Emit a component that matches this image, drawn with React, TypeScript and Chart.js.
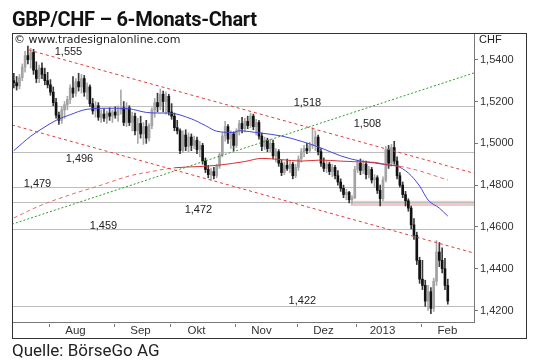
import { useEffect, useRef } from 'react';
import { Chart, registerables } from 'chart.js';

Chart.register(...registerables);

// ---- Data (daily GBP/CHF, 13 Jul 2012 – 14 Feb 2013, trading-day index) ----
const monthLabels = ['Aug', 'Sep', 'Okt', 'Nov', 'Dez', '2013', 'Feb'];
const monthStarts = [13, 36, 56, 79, 101, 122, 145];

const opens = [
  1.5300, 1.5290, 1.5275, 1.5315, 1.5365, 1.5420, 1.5400, 1.5435, 1.5350, 1.5310,
  1.5360, 1.5330, 1.5300, 1.5280, 1.5245, 1.5195, 1.5135, 1.5110, 1.5160, 1.5185,
  1.5210, 1.5265, 1.5240, 1.5295, 1.5270, 1.5310, 1.5245, 1.5270, 1.5190, 1.5155,
  1.5180, 1.5125, 1.5140, 1.5120, 1.5145, 1.5130, 1.5150, 1.5135, 1.5160, 1.5170,
  1.5100, 1.5170, 1.5100, 1.5130, 1.5060, 1.5095, 1.5045, 1.5080, 1.5025, 1.5085,
  1.5160, 1.5195, 1.5175, 1.5235, 1.5200, 1.5225, 1.5150, 1.5130, 1.5075, 1.5060,
  1.4965, 1.5040, 1.4985, 1.5030, 1.4990, 1.5015, 1.4970, 1.4990, 1.4915, 1.4875,
  1.4850, 1.4865, 1.4845, 1.4890, 1.4945, 1.5035, 1.5080, 1.5020, 1.5045, 1.4990,
  1.5060, 1.5095, 1.5070, 1.5105, 1.5085, 1.5130, 1.5080, 1.5100, 1.5035, 1.4985,
  1.5015, 1.4975, 1.5000, 1.4940, 1.4960, 1.4905, 1.4860, 1.4895, 1.4880, 1.4900,
  1.4845, 1.4885, 1.4925, 1.4960, 1.4975, 1.4965, 1.4990, 1.4995, 1.5030, 1.4960,
  1.4905, 1.4880, 1.4900, 1.4865, 1.4885, 1.4845, 1.4815, 1.4785, 1.4755, 1.4765,
  1.4730, 1.4740, 1.4875, 1.4905, 1.4870, 1.4900, 1.4850, 1.4875, 1.4825, 1.4835,
  1.4775, 1.4735, 1.4825, 1.4970, 1.4905, 1.4980, 1.4915, 1.4845, 1.4800, 1.4755,
  1.4725, 1.4690, 1.4610, 1.4560, 1.4440, 1.4350, 1.4320, 1.4245, 1.4290, 1.4210,
  1.4340, 1.4480, 1.4440, 1.4400, 1.4320,
];
const highs = [
  1.5335, 1.5320, 1.5330, 1.5380, 1.5440, 1.5465, 1.5455, 1.5450, 1.5390, 1.5375,
  1.5385, 1.5360, 1.5340, 1.5305, 1.5270, 1.5215, 1.5150, 1.5175, 1.5200, 1.5225,
  1.5280, 1.5320, 1.5310, 1.5335, 1.5330, 1.5325, 1.5290, 1.5280, 1.5215, 1.5200,
  1.5195, 1.5160, 1.5165, 1.5155, 1.5170, 1.5160, 1.5175, 1.5180, 1.5255, 1.5200,
  1.5195, 1.5180, 1.5150, 1.5145, 1.5120, 1.5130, 1.5100, 1.5110, 1.5095, 1.5170,
  1.5215, 1.5240, 1.5260, 1.5250, 1.5245, 1.5235, 1.5190, 1.5145, 1.5110, 1.5070,
  1.5060, 1.5065, 1.5050, 1.5045, 1.5035, 1.5030, 1.5010, 1.5000, 1.4930, 1.4895,
  1.4880, 1.4885, 1.4900, 1.4955, 1.5050, 1.5105, 1.5090, 1.5060, 1.5055, 1.5070,
  1.5110, 1.5125, 1.5120, 1.5130, 1.5145, 1.5140, 1.5115, 1.5110, 1.5050, 1.5030,
  1.5025, 1.5020, 1.5015, 1.4975, 1.4970, 1.4920, 1.4910, 1.4925, 1.4915, 1.4910,
  1.4900, 1.4940, 1.4975, 1.4990, 1.5000, 1.5005, 1.5075, 1.5060, 1.5040, 1.4975,
  1.4930, 1.4915, 1.4910, 1.4900, 1.4895, 1.4870, 1.4830, 1.4800, 1.4780, 1.4770,
  1.4750, 1.4890, 1.4920, 1.4925, 1.4920, 1.4915, 1.4890, 1.4885, 1.4850, 1.4845,
  1.4800, 1.4840, 1.4985, 1.4990, 1.4995, 1.5010, 1.4935, 1.4860, 1.4815, 1.4770,
  1.4735, 1.4700, 1.4640, 1.4575, 1.4455, 1.4440, 1.4345, 1.4320, 1.4310, 1.4355,
  1.4535, 1.4525, 1.4500, 1.4450, 1.4350,
];
const lows = [
  1.5265, 1.5255, 1.5260, 1.5300, 1.5340, 1.5380, 1.5360, 1.5330, 1.5290, 1.5290,
  1.5310, 1.5280, 1.5265, 1.5230, 1.5180, 1.5120, 1.5090, 1.5095, 1.5120, 1.5160,
  1.5190, 1.5220, 1.5225, 1.5250, 1.5240, 1.5225, 1.5210, 1.5175, 1.5140, 1.5125,
  1.5110, 1.5100, 1.5105, 1.5095, 1.5110, 1.5100, 1.5120, 1.5105, 1.5140, 1.5085,
  1.5080, 1.5085, 1.5060, 1.5040, 1.5000, 1.5025, 1.4995, 1.5000, 1.5010, 1.5070,
  1.5125, 1.5150, 1.5160, 1.5150, 1.5140, 1.5135, 1.5115, 1.5060, 1.5045, 1.4950,
  1.4955, 1.4965, 1.4960, 1.4965, 1.4975, 1.4950, 1.4935, 1.4900, 1.4860, 1.4835,
  1.4825, 1.4830, 1.4835, 1.4880, 1.4935, 1.5010, 1.5000, 1.4975, 1.4965, 1.4980,
  1.5040, 1.5050, 1.5055, 1.5070, 1.5075, 1.5065, 1.5040, 1.5020, 1.4965, 1.4970,
  1.4960, 1.4960, 1.4925, 1.4910, 1.4890, 1.4845, 1.4850, 1.4870, 1.4860, 1.4830,
  1.4835, 1.4870, 1.4910, 1.4935, 1.4950, 1.4955, 1.4975, 1.4965, 1.4945, 1.4890,
  1.4865, 1.4860, 1.4850, 1.4840, 1.4830, 1.4800, 1.4770, 1.4740, 1.4730, 1.4715,
  1.4710, 1.4735, 1.4860, 1.4850, 1.4855, 1.4830, 1.4835, 1.4810, 1.4790, 1.4760,
  1.4700, 1.4725, 1.4815, 1.4880, 1.4890, 1.4900, 1.4830, 1.4790, 1.4740, 1.4700,
  1.4675, 1.4590, 1.4540, 1.4420, 1.4330, 1.4300, 1.4220, 1.4200, 1.4185, 1.4195,
  1.4320, 1.4410, 1.4380, 1.4300, 1.4230,
];
const closes = [
  1.5290, 1.5275, 1.5315, 1.5365, 1.5420, 1.5400, 1.5435, 1.5350, 1.5310, 1.5360,
  1.5330, 1.5300, 1.5280, 1.5245, 1.5195, 1.5135, 1.5110, 1.5160, 1.5185, 1.5210,
  1.5265, 1.5240, 1.5295, 1.5270, 1.5310, 1.5245, 1.5270, 1.5190, 1.5155, 1.5180,
  1.5125, 1.5140, 1.5120, 1.5145, 1.5130, 1.5150, 1.5135, 1.5160, 1.5170, 1.5100,
  1.5170, 1.5100, 1.5130, 1.5060, 1.5095, 1.5045, 1.5080, 1.5025, 1.5085, 1.5160,
  1.5195, 1.5175, 1.5235, 1.5200, 1.5225, 1.5150, 1.5130, 1.5075, 1.5060, 1.4965,
  1.5040, 1.4985, 1.5030, 1.4990, 1.5015, 1.4970, 1.4990, 1.4915, 1.4875, 1.4850,
  1.4865, 1.4845, 1.4890, 1.4945, 1.5035, 1.5080, 1.5020, 1.5045, 1.4990, 1.5060,
  1.5095, 1.5070, 1.5105, 1.5085, 1.5130, 1.5080, 1.5100, 1.5035, 1.4985, 1.5015,
  1.4975, 1.5000, 1.4940, 1.4960, 1.4905, 1.4860, 1.4895, 1.4880, 1.4900, 1.4845,
  1.4885, 1.4925, 1.4960, 1.4975, 1.4965, 1.4990, 1.4995, 1.5030, 1.4960, 1.4905,
  1.4880, 1.4900, 1.4865, 1.4885, 1.4845, 1.4815, 1.4785, 1.4755, 1.4765, 1.4730,
  1.4740, 1.4875, 1.4905, 1.4870, 1.4900, 1.4850, 1.4875, 1.4825, 1.4835, 1.4775,
  1.4735, 1.4825, 1.4970, 1.4905, 1.4980, 1.4915, 1.4845, 1.4800, 1.4755, 1.4725,
  1.4690, 1.4610, 1.4560, 1.4440, 1.4350, 1.4320, 1.4245, 1.4290, 1.4210, 1.4340,
  1.4480, 1.4440, 1.4400, 1.4320, 1.4245,
];

// moving averages: [trading-day index, value]
const blueMA: [number, number][] = [
  [0, 1.4965], [6, 1.5034], [10, 1.5070], [15, 1.5110], [20, 1.5137], [26, 1.5163],
  [34, 1.5168], [41, 1.5165], [47, 1.5148], [51, 1.5145], [55, 1.5145], [63, 1.5117],
  [68, 1.5085], [72, 1.5058], [78, 1.5052], [80, 1.5060], [87, 1.5050], [95, 1.5035],
  [102, 1.5010], [109, 1.4978], [116, 1.4940], [123, 1.4915], [128, 1.4906],
  [133, 1.4896], [136, 1.4891], [140, 1.4858], [144, 1.4796], [147, 1.4729],
  [151, 1.4690], [154, 1.4652],
];
const redMA: [number, number][] = [
  [0, 1.4643], [9, 1.4700], [20, 1.4754], [31, 1.4800], [41, 1.4844], [48, 1.4863],
  [57, 1.4883], [66, 1.4889], [73, 1.4896], [82, 1.4913], [88, 1.4928], [95, 1.4922],
  [102, 1.4915], [109, 1.4920], [116, 1.4915], [121, 1.4912], [128, 1.4909],
  [133, 1.4896], [137, 1.4890], [144, 1.4868], [154, 1.4824],
];
const greenTrend: [number, number][] = [[-0.64, 1.4613], [163.3, 1.5337]];
const upperChannel: [number, number][] = [[5.2, 1.5447], [163.3, 1.4857]];
const lowerChannel: [number, number][] = [[-0.64, 1.5088], [163.3, 1.4475]];

const levels = [1.518, 1.496, 1.479, 1.472, 1.459, 1.422];
const supportBand = [1.47, 1.4725];
const supportBandStart = 119.5;
const levelTexts = ['1,555', '1,518', '1,508', '1,496', '1,479', '1,472', '1,459', '1,422'];
const levelTextAnchors: [number, number][] = [
  [19.4, 1.5437], [104.2, 1.5193], [125.5, 1.5095], [23.3, 1.4925],
  [8.4, 1.4805], [65.5, 1.4682], [31.8, 1.4604], [102.4, 1.4245],
];
const yTicks = [1.42, 1.44, 1.46, 1.48, 1.5, 1.52, 1.54];

const X_MIN = -0.64;
const X_MAX = 163.3;

const toXY = (pts: [number, number][]) => pts.map(([x, y]) => ({ x, y }));

const overlay = {
  id: 'overlay',
  beforeDatasetsDraw(chart: any) {
    const { ctx, chartArea: a, scales } = chart;
    const x = scales.x;
    const y = scales.y;
    ctx.save();
    const bx = x.getPixelForValue(supportBandStart);
    const by1 = y.getPixelForValue(supportBand[1]);
    const by2 = y.getPixelForValue(supportBand[0]);
    ctx.fillStyle = '#f5c6c6';
    ctx.fillRect(bx, by1, a.right - bx, by2 - by1);
    ctx.strokeStyle = '#bdbdbd';
    ctx.lineWidth = 1;
    levels.forEach((v) => {
      const py = Math.round(y.getPixelForValue(v)) + 0.5;
      ctx.beginPath();
      ctx.moveTo(a.left, py);
      ctx.lineTo(a.right, py);
      ctx.stroke();
    });
    ctx.restore();
  },
  afterDatasetsDraw(chart: any) {
    const { ctx, chartArea: a, scales } = chart;
    const x = scales.x;
    const y = scales.y;
    ctx.save();
    // level labels
    ctx.font = '11px "Liberation Sans", Arial, sans-serif';
    ctx.fillStyle = '#222';
    ctx.textAlign = 'center';
    ctx.textBaseline = 'middle';
    levelTexts.forEach((t, i) => {
      const [ix, v] = levelTextAnchors[i];
      ctx.fillText(t, x.getPixelForValue(ix), y.getPixelForValue(v));
    });
    // copyright & currency
    ctx.textAlign = 'left';
    ctx.font = '11px "DejaVu Sans", Verdana, sans-serif';
    ctx.fillText('© www.tradesignalonline.com', 14, 40);
    ctx.font = '11px "Liberation Sans", Arial, sans-serif';
    ctx.fillText('CHF', 479, 40);
    // plot bottom line
    ctx.strokeStyle = '#777';
    ctx.lineWidth = 1;
    ctx.beginPath();
    ctx.moveTo(a.left, Math.round(a.bottom) + 0.5);
    ctx.lineTo(a.right, Math.round(a.bottom) + 0.5);
    ctx.stroke();
    // month ticks & labels
    ctx.font = '11.5px "Liberation Sans", Arial, sans-serif';
    ctx.fillStyle = '#333';
    ctx.textAlign = 'center';
    monthStarts.forEach((s, i) => {
      const px = Math.round(x.getPixelForValue(s - 0.5)) + 0.5;
      ctx.beginPath();
      ctx.moveTo(px, a.bottom + 2);
      ctx.lineTo(px, a.bottom + 5);
      ctx.stroke();
      ctx.fillText(monthLabels[i], px + 26, a.bottom + 9);
    });
    // outer frame
    ctx.strokeStyle = '#333';
    ctx.strokeRect(12.5, 33.5, 514, 305);
    ctx.restore();
  },
};

export default function App() {
  const ref = useRef<HTMLCanvasElement | null>(null);
  useEffect(() => {
    if (!ref.current) return;
    const upColor = '#a3a3a3';
    const downColor = '#111';
    const isUp = closes.map((c, i) => c >= opens[i]);
    const chart = new Chart(ref.current, {
      type: 'bar',
      data: {
        datasets: [
          {
            type: 'line',
            data: toXY(upperChannel),
            borderColor: '#e23a3a',
            borderWidth: 1,
            borderDash: [3, 3],
            pointRadius: 0,
            order: 1,
          } as any,
          {
            type: 'line',
            data: toXY(lowerChannel),
            borderColor: '#e23a3a',
            borderWidth: 1,
            borderDash: [3, 3],
            pointRadius: 0,
            order: 1,
          } as any,
          {
            type: 'line',
            data: toXY(greenTrend),
            borderColor: '#2f9a2f',
            borderWidth: 1,
            borderDash: [2, 2],
            pointRadius: 0,
            order: 1,
          } as any,
          {
            type: 'line',
            data: toXY(redMA),
            borderColor: '#d63030',
            borderWidth: 1,
            pointRadius: 0,
            cubicInterpolationMode: 'monotone',
            segment: {
              borderDash: (c: any) =>
                c.p0.parsed.x < 57 || c.p0.parsed.x >= 137 ? [4, 3] : undefined,
              borderColor: (c: any) =>
                c.p0.parsed.x < 57 || c.p0.parsed.x >= 137 ? '#e86a6a' : undefined,
            },
            order: 1,
          } as any,
          {
            type: 'line',
            data: toXY(blueMA),
            borderColor: '#4646d8',
            borderWidth: 1,
            pointRadius: 0,
            cubicInterpolationMode: 'monotone',
            order: 1,
          } as any,
          {
            type: 'bar',
            data: lows.map((l, i) => ({ x: i, y: [l, highs[i]] })),
            backgroundColor: isUp.map((u) => (u ? '#aaaaaa' : '#3a3a3a')),
            barThickness: 1,
            grouped: false,
            borderWidth: 0,
            order: 3,
          } as any,
          {
            type: 'bar',
            data: opens.map((o, i) => ({ x: i, y: [o, closes[i]] })),
            backgroundColor: isUp.map((u) => (u ? upColor : downColor)),
            barThickness: 2,
            minBarLength: 1,
            grouped: false,
            borderWidth: 0,
            order: 2,
          } as any,
        ],
      },
      options: {
        animation: false,
        responsive: false,
        devicePixelRatio: 1,
        layout: { padding: { left: 12, top: 33, right: 14, bottom: 42 } },
        plugins: { legend: { display: false }, tooltip: { enabled: false } },
        scales: {
          x: { type: 'linear', min: X_MIN, max: X_MAX, offset: false, display: false },
          y: {
            type: 'linear',
            position: 'right',
            min: 1.4145,
            max: 1.5528,
            afterBuildTicks: (s: any) => {
              s.ticks = yTicks.map((v) => ({ value: v }));
            },
            afterFit: (s: any) => {
              s.width = 52;
            },
            grid: { drawOnChartArea: false, drawTicks: true, tickLength: 4, color: '#777' },
            border: { display: true, color: '#777' },
            ticks: {
              padding: 2,
              color: '#333',
              font: { family: '"Liberation Sans", Arial, sans-serif', size: 11 },
              callback: (v: any) => Number(v).toFixed(4).replace('.', ','),
            },
          },
        },
      },
      plugins: [overlay],
    } as any);
    return () => chart.destroy();
  }, []);

  return (
    <div style={{ position: 'fixed', left: 0, top: 0, width: 540, height: 364, background: '#fff' }}>
      <canvas ref={ref} width={540} height={364} style={{ position: 'absolute', left: 0, top: 0, width: 540, height: 364 }} />
      <div
        style={{
          position: 'absolute',
          left: 12,
          top: 9,
          font: 'bold 20px Roboto, "Liberation Sans", sans-serif',
          lineHeight: '21px',
          color: '#111',
          whiteSpace: 'nowrap',
          letterSpacing: '-0.3px',
        }}
      >
        GBP/CHF – 6-Monats-Chart
      </div>
      <div
        style={{
          position: 'absolute',
          left: 12,
          top: 342,
          font: '17px Roboto, "Liberation Sans", sans-serif',
          lineHeight: '17px',
          color: '#222',
          whiteSpace: 'nowrap',
        }}
      >
        Quelle: BörseGo AG
      </div>
    </div>
  );
}
